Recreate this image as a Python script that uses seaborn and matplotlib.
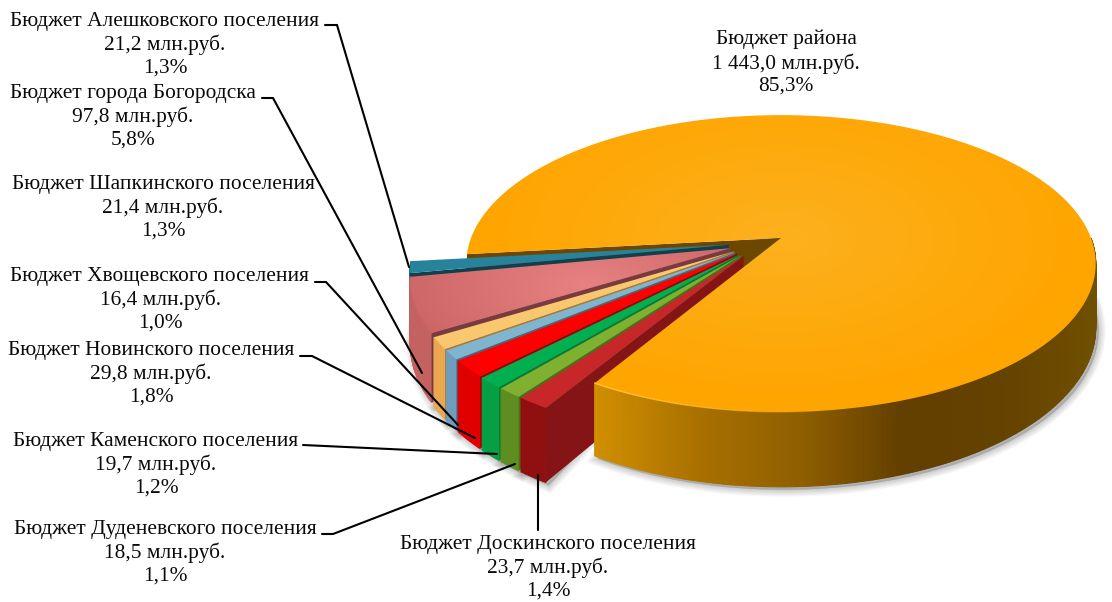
import numpy as np
import matplotlib
matplotlib.use('Agg')
import matplotlib.pyplot as plt
from matplotlib.colors import to_rgb, LinearSegmentedColormap
from matplotlib.patches import Polygon
import seaborn as sns

# budgets, counter-clockwise from the back edge of the gap
names = ['Бюджет Алешковского поселения', 'Бюджет города Богородска',
         'Бюджет Шапкинского поселения', 'Бюджет Хвощевского поселения',
         'Бюджет Новинского поселения', 'Бюджет Каменского поселения',
         'Бюджет Дуденевского поселения', 'Бюджет Доскинского поселения',
         'Бюджет района']
values = [21.2, 97.8, 21.4, 16.4, 29.8, 19.7, 18.5, 23.7, 1443.0]

top_colors = ['#27829C', '#D96F6F', '#F9C76D', '#7FB5CF', '#FF0000', '#00B050', '#7FB030', '#C8272A', '#FFA500']
wall_colors = ['#1D6C82', '#C46262', '#EBA850', '#6E9DBD', '#E00000', '#05A045', '#5E8E20', '#900F0F', '#8A5C00']
side_colors = ['#123F4C', '#7A3A40', '#A87A30', '#3F6C85', '#A00000', '#067A38', '#4A7018', '#841416', '#6B4700']

label_centers = [(165, 45), (133, 117), (163, 208), (160, 300), (151, 374), (156, 465), (165, 553), (548, 568), (786, 63)]
leaders = [
    [(325, 25), (337, 25), (409, 267)],
    [(262, 98), (273, 98), (422, 373)],
    [(315, 282), (326, 282), (458, 425)],
    [(300, 356), (312, 356), (475, 438)],
    [(303, 445), (497, 454)],
    [(322, 534), (333, 534), (515, 464)],
    [(538, 475), (538, 530)],
]

CX, CY = 781, 238
RX, RY, K = 310, 144, 0.172
DEPTH = 62
GROUP_SHIFT = (-0.058, -0.03)


def project(x, y, down=0.0):
    w = 1 / (1 + K * y)
    return CX + RX * x * w, CY - RY * y * w + down * w


def arc(wedge, shift, n=None, stop=None):
    end = wedge.theta2 if stop is None else min(stop, wedge.theta2)
    n = n or max(int(end - wedge.theta1) * 2, 8)
    t = np.radians(np.linspace(wedge.theta1, end, n))
    return wedge.center[0] + shift[0] + wedge.r * np.cos(t), wedge.center[1] + shift[1] + wedge.r * np.sin(t)


def top_face(wedge, shift):
    xs, ys = arc(wedge, shift)
    xs = np.r_[wedge.center[0] + shift[0], xs]
    ys = np.r_[wedge.center[1] + shift[1], ys]
    return np.column_stack(project(xs, ys))


def front_side(wedge, shift):
    # straight cut wall on the theta2 edge, the one facing the viewer
    xa, ya = wedge.center[0] + shift[0], wedge.center[1] + shift[1]
    t = np.radians(wedge.theta2)
    xb, yb = xa + wedge.r * np.cos(t), ya + wedge.r * np.sin(t)
    return [project(xa, ya), project(xb, yb), project(xb, yb, DEPTH), project(xa, ya, DEPTH)]


def wall_strips(ax, wedge, shift, color_fn, z):
    # only the arc from theta1 round to 360 degrees faces the viewer
    xs, ys = arc(wedge, shift, stop=360)
    for i in range(len(xs) - 1):
        a, b = project(xs[i], ys[i]), project(xs[i + 1], ys[i + 1])
        c, d = project(xs[i + 1], ys[i + 1], DEPTH), project(xs[i], ys[i], DEPTH)
        col = color_fn(a[0])
        ax.add_patch(Polygon([a, b, c, d], closed=True, fc=col, ec=col, lw=0.8, zorder=z))


def radial_fill(ax, poly, center, radius, inner, outer, z):
    yy, xx = np.mgrid[0:602, 0:1112]
    d = np.clip(np.hypot((xx - center[0]) / radius[0], (yy - center[1]) / radius[1]), 0, 1)
    cmap = LinearSegmentedColormap.from_list('top', [inner, outer])
    im = ax.imshow(d, cmap=cmap, vmin=0, vmax=1, extent=(0, 1112, 602, 0), aspect='auto', zorder=z, interpolation='bilinear')
    patch = Polygon(poly, closed=True, fc='none', ec='none', zorder=z, transform=ax.transData)
    ax.add_patch(patch)
    im.set_clip_path(patch)


def main_wall_color(x):
    stops_x = [597, 700, 800, 900, 1000, 1100]
    stops = [to_rgb(c) for c in ['#D08E00', '#A87000', '#8F5F00', '#633F00', '#644200', '#705000']]
    return tuple(np.interp(x, stops_x, [s[i] for s in stops]) for i in range(3))


sns.set_theme(style='white')
plt.rcParams['font.family'] = ['Liberation Serif', 'DejaVu Serif']

fig = plt.figure(figsize=(11.12, 6.02), dpi=100)
ax = fig.add_axes([0, 0, 1, 1])

explode = [0.11] * 8 + [0.0]
wedges, _ = ax.pie(values, startangle=186.3, counterclock=True, explode=explode, radius=1.0)
ax.set_aspect('auto')
for w in wedges:
    w.set_visible(False)

total = sum(values)
main_wedge = wedges[-1]
no_shift = (0.0, 0.0)

# soft shadow under the pie
sil = []
for w, s in zip(wedges, [GROUP_SHIFT] * 8 + [no_shift]):
    xs, ys = arc(w, s, stop=360)
    px, py = project(xs, ys, DEPTH)
    sil.append(np.column_stack([px, py]))
for i in range(7):
    for pts in sil:
        shadow = np.vstack([pts + [3, 3], [[CX, CY]]])
        ax.add_patch(Polygon(shadow, closed=True, fc='k', ec='k', lw=1.5 * i + 1, alpha=0.03, zorder=1))

# back cut wall of the big slice sits behind the small ones
ax.add_patch(Polygon(front_side(main_wedge, no_shift), closed=True, fc=side_colors[-1], ec='none', zorder=2))

z = 3
for i, w in enumerate(wedges[:-1]):
    wall_strips(ax, w, GROUP_SHIFT, lambda x, c=wall_colors[i]: c, z)
    ax.add_patch(Polygon(front_side(w, GROUP_SHIFT), closed=True, fc=side_colors[i], ec='none', zorder=z))
    poly = top_face(w, GROUP_SHIFT)
    if i == 1:
        radial_fill(ax, poly, (585, 285), (190, 90), '#E88282', '#CC6666', z + 0.5)
    else:
        ax.add_patch(Polygon(poly, closed=True, fc=top_colors[i], ec='none', zorder=z + 0.5))
    z += 1

wall_strips(ax, main_wedge, no_shift, main_wall_color, 20)
main_poly = top_face(main_wedge, no_shift)
radial_fill(ax, main_poly, (782, 238), (300, 160), '#FCB11E', '#FFA500', 21)

# light rim along the front edge, fading out to the right
xs, ys = arc(main_wedge, no_shift, stop=360)
rx_, ry_ = project(xs, ys)
n_rim = len(xs) // 3
for i in range(n_rim):
    ax.plot(rx_[i:i + 2], ry_[i:i + 2], color='#FFC33A', lw=1.0, alpha=1 - i / n_rim, zorder=22)

for pts in leaders:
    ax.plot([p[0] for p in pts], [p[1] for p in pts], color='black', lw=1.5, solid_joinstyle='miter', zorder=30)

for name, v, (x, y) in zip(names, values, label_centers):
    amount = f'{v:,.1f}'.replace(',', ' ').replace('.', ',')
    pct = f'{v / total * 100:.1f}'.replace('.', ',')
    ax.text(x, y, f'{name}\n{amount} млн.руб.\n{pct}%', ha='center', va='center', fontsize=15.4,
            color='#0A0A0A', linespacing=1.24, zorder=31)

ax.set_xlim(0, 1112)
ax.set_ylim(602, 0)
ax.axis('off')
fig.savefig('out.png', dpi=100)
